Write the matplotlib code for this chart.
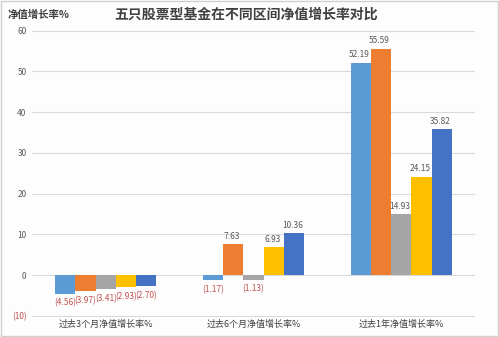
import numpy as np
import matplotlib.pyplot as plt

plt.rcParams['font.family'] = ['Noto Sans CJK SC', 'DejaVu Sans']

periods = ['过去3个月净值增长率%', '过去6个月净值增长率%', '过去1年净值增长率%']
fund_a = [-4.56, -1.17, 52.19]
fund_b = [-3.97, 7.63, 55.59]
fund_c = [-3.41, -1.13, 14.93]
fund_d = [-2.93, 6.93, 24.15]
fund_e = [-2.70, 10.36, 35.82]
y_ticks = [-10, 0, 10, 20, 30, 40, 50, 60]

series = [fund_a, fund_b, fund_c, fund_d, fund_e]
colors = ['#5B9BD5', '#ED7D31', '#A5A5A5', '#FFC000', '#4472C4']
neg_color = '#C0504D'

fig = plt.figure(figsize=(4.99, 3.37), dpi=100, facecolor='#FDFDFE')
ax = fig.add_axes([32 / 499, 20 / 337, 443 / 499, 286.5 / 337])
ax.set_facecolor('#FDFDFE')

x = np.arange(len(periods))
width = 0.137
for i, (vals, c) in enumerate(zip(series, colors)):
    pos = x + (i - 2) * width
    ax.bar(pos, vals, width, color=c, zorder=3)
    for px, v in zip(pos, vals):
        if v < 0:
            ax.text(px, v - 1.2, '(%.2f)' % abs(v), ha='center', va='top',
                    fontsize=6, color=neg_color)
        else:
            ax.text(px - 0.01, v + 0.8, '%.2f' % v, ha='center', va='bottom',
                    fontsize=6, color='#595959')

ax.set_xlim(-0.5, 2.5)
ax.set_ylim(-10.3, 60.05)
ax.set_yticks(y_ticks)
ax.set_yticklabels(['(10)' if t < 0 else str(t) for t in y_ticks], fontsize=6)
for lbl, t in zip(ax.get_yticklabels(), y_ticks):
    lbl.set_color(neg_color if t < 0 else '#595959')
ax.set_xticks(x)
ax.set_xticklabels(periods, fontsize=6.5, color='#404040')
ax.tick_params(length=0, pad=4)
ax.tick_params(axis='x', pad=2)
ax.grid(axis='y', color='#D9D9D9', linewidth=0.8, zorder=0)
for s in ax.spines.values():
    s.set_visible(False)

fig.text(8 / 499, 1 - 15 / 337, '净值增长率%', fontsize=7.5, color='#404040',
         va='center', ha='left', fontweight='bold')
fig.text(246 / 499, 1 - 15 / 337, '五只股票型基金在不同区间净值增长率对比', fontsize=10,
         color='#404040', va='center', ha='center', fontweight='bold')

# outer frame
fig.patches.append(plt.Rectangle((0.002, 0.003), 0.996, 0.994, transform=fig.transFigure,
                                 fill=False, edgecolor='#D0D0D0', linewidth=1))

fig.savefig('out.png', dpi=100, facecolor=fig.get_facecolor())
